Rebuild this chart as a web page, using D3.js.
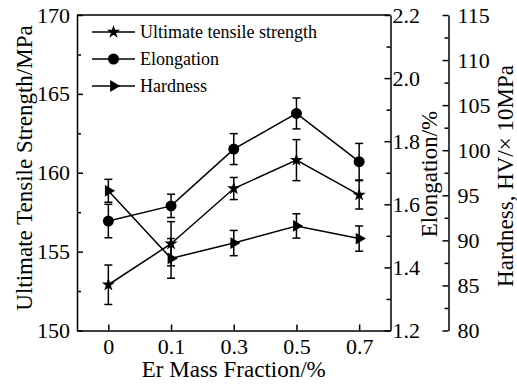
<!DOCTYPE html>
<html>
<head>
<meta charset="utf-8">
<script src="https://cdn.jsdelivr.net/npm/d3@7"></script>
<style>
  body { margin: 0; background: #fff; }
  svg text { fill: #000; }
  .axis path, .axis line { stroke: #000; stroke-width: 1.5; }
</style>
</head>
<body>
<svg id="chart"></svg>
<script>
// categories on the x axis (Er mass fraction, %)
const erLabels = ["0", "0.1", "0.3", "0.5", "0.7"]
// ultimate tensile strength, MPa
const utsValues = [152.9, 155.5, 159.0, 160.8, 158.6]
const utsErr = [1.25, 1.4, 0.7, 1.3, 0.9]
// elongation, %
const elongValues = [1.547, 1.595, 1.775, 1.888, 1.735]
const elongErr = [0.053, 0.037, 0.049, 0.049, 0.058]
// hardness, HV x 10MPa
const hardValues = [95.5, 88.0, 89.7, 91.6, 90.2]
const hardErr = [1.27, 2.2, 1.4, 1.35, 1.4]
// tick labels
const utsTicks = [150, 155, 160, 165, 170]
const elongTicks = [1.2, 1.4, 1.6, 1.8, 2.0, 2.2]
const hardTicks = [80, 85, 90, 95, 100, 105, 110, 115]

const legendNames = ["Ultimate tensile strength", "Elongation", "Hardness"]

const serif = "'Liberation Serif', 'Times New Roman', serif"
const width = 517, height = 387
const plot = { left: 77, right: 390.5, top: 15, bottom: 330.5 }
const hardAxisX = 448.5

const svg = d3.select("#chart").attr("width", width).attr("height", height)
    .attr("font-family", serif)

const x = d3.scalePoint()
    .domain(erLabels)
    .range([plot.left, plot.right])
    .padding(0.5)
const yUts = d3.scaleLinear().domain([150, 170]).range([plot.bottom, plot.top])
const yElong = d3.scaleLinear().domain([1.2, 2.2]).range([plot.bottom, plot.top])
const yHard = d3.scaleLinear().domain([80, 115]).range([plot.bottom, plot.top])

// minor ticks between the major ones
const minorOf = (ticks) => {
    let out = []
    for (let i = 0; i < ticks.length - 1; i++) out.push((ticks[i] + ticks[i + 1]) / 2)
    return out
}

// top border
svg.append("line")
    .attr("x1", plot.left).attr("x2", plot.right)
    .attr("y1", plot.top).attr("y2", plot.top)
    .attr("stroke", "#000").attr("stroke-width", 1.5)

// left axis
const leftG = svg.append("g").attr("class", "axis")
    .attr("transform", `translate(${plot.left},0)`)
    .call(d3.axisLeft(yUts).tickValues(utsTicks).tickSize(-6).tickSizeOuter(0).tickPadding(7))
leftG.append("g")
    .call(d3.axisLeft(yUts).tickValues(minorOf(utsTicks)).tickSize(-4).tickFormat(""))
    .select(".domain").remove()

// bottom axis
svg.append("g").attr("class", "axis")
    .attr("transform", `translate(0,${plot.bottom})`)
    .call(d3.axisBottom(x).tickSize(-6).tickSizeOuter(0).tickPadding(8))

// right elongation axis
const rightG = svg.append("g").attr("class", "axis")
    .attr("transform", `translate(${plot.right},0)`)
    .call(d3.axisRight(yElong).tickValues(elongTicks).tickSize(-6).tickSizeOuter(0).tickPadding(2)
        .tickFormat(d3.format(".1f")))
rightG.append("g")
    .call(d3.axisRight(yElong).tickValues(minorOf(elongTicks)).tickSize(-4).tickFormat(""))
    .select(".domain").remove()

// hardness axis, offset to the right
const hardG = svg.append("g").attr("class", "axis")
    .attr("transform", `translate(${hardAxisX},0)`)
    .call(d3.axisRight(yHard).tickValues(hardTicks).tickSize(-6).tickSizeOuter(0).tickPadding(9))
hardG.append("g")
    .call(d3.axisRight(yHard).tickValues(minorOf(hardTicks)).tickSize(-4).tickFormat(""))
    .select(".domain").remove()

svg.selectAll(".axis").attr("font-family", serif)
svg.selectAll(".axis text").attr("font-size", 22)

// axis titles
svg.append("text")
    .attr("transform", `translate(32,168) rotate(-90)`)
    .attr("text-anchor", "middle").attr("font-size", 23)
    .text("Ultimate Tensile Strength/MPa")
svg.append("text")
    .attr("x", (plot.left + plot.right) / 2).attr("y", 377)
    .attr("text-anchor", "middle").attr("font-size", 23)
    .text("Er Mass Fraction/%")
svg.append("text")
    .attr("transform", `translate(437,174) rotate(-90)`)
    .attr("text-anchor", "middle").attr("font-size", 23)
    .text("Elongation/%")
svg.append("text")
    .attr("transform", `translate(513,176) rotate(-90)`)
    .attr("text-anchor", "middle").attr("font-size", 23)
    .text("Hardness, HV/× 10MPa")

// symbols for each series
const star = d3.symbol().type(d3.symbolStar).size(55)
const circle = d3.symbol().type(d3.symbolCircle).size(95)
const tri = d3.symbol().type(d3.symbolTriangle).size(60)

const series = [
    { values: utsValues, err: utsErr, y: yUts, sym: star, rot: 0 },
    { values: elongValues, err: elongErr, y: yElong, sym: circle, rot: 0 },
    { values: hardValues, err: hardErr, y: yHard, sym: tri, rot: 90 },
]

const line = d3.line()
for (let s of series) {
    const g = svg.append("g")
    const pts = s.values.map((v, i) => [x(erLabels[i]), s.y(v)])
    g.append("path")
        .attr("d", line(pts))
        .attr("fill", "none").attr("stroke", "#000").attr("stroke-width", 1.5)
    // error bars with caps
    s.values.forEach((v, i) => {
        const cx = x(erLabels[i])
        const y1 = s.y(v + s.err[i]), y2 = s.y(v - s.err[i])
        g.append("line").attr("x1", cx).attr("x2", cx).attr("y1", y1).attr("y2", y2)
            .attr("stroke", "#000").attr("stroke-width", 1.5)
        for (let yy of [y1, y2]) {
            g.append("line").attr("x1", cx - 4).attr("x2", cx + 4).attr("y1", yy).attr("y2", yy)
                .attr("stroke", "#000").attr("stroke-width", 1.5)
        }
    })
    g.selectAll("path.mark").data(pts).enter().append("path")
        .attr("class", "mark")
        .attr("d", s.sym)
        .attr("transform", d => `translate(${d[0]},${d[1]}) rotate(${s.rot})`)
        .attr("fill", "#000")
}

// legend
const legend = svg.append("g")
legendNames.forEach((name, i) => {
    const ly = 32 + i * 27
    legend.append("line")
        .attr("x1", 92).attr("x2", 135).attr("y1", ly).attr("y2", ly)
        .attr("stroke", "#000").attr("stroke-width", 1.5)
    legend.append("path")
        .attr("d", series[i].sym)
        .attr("transform", `translate(113.5,${ly}) rotate(${series[i].rot})`)
        .attr("fill", "#000")
    legend.append("text")
        .attr("x", 140).attr("y", ly + 6)
        .attr("font-size", 18)
        .text(name)
})
</script>
</body>
</html>
